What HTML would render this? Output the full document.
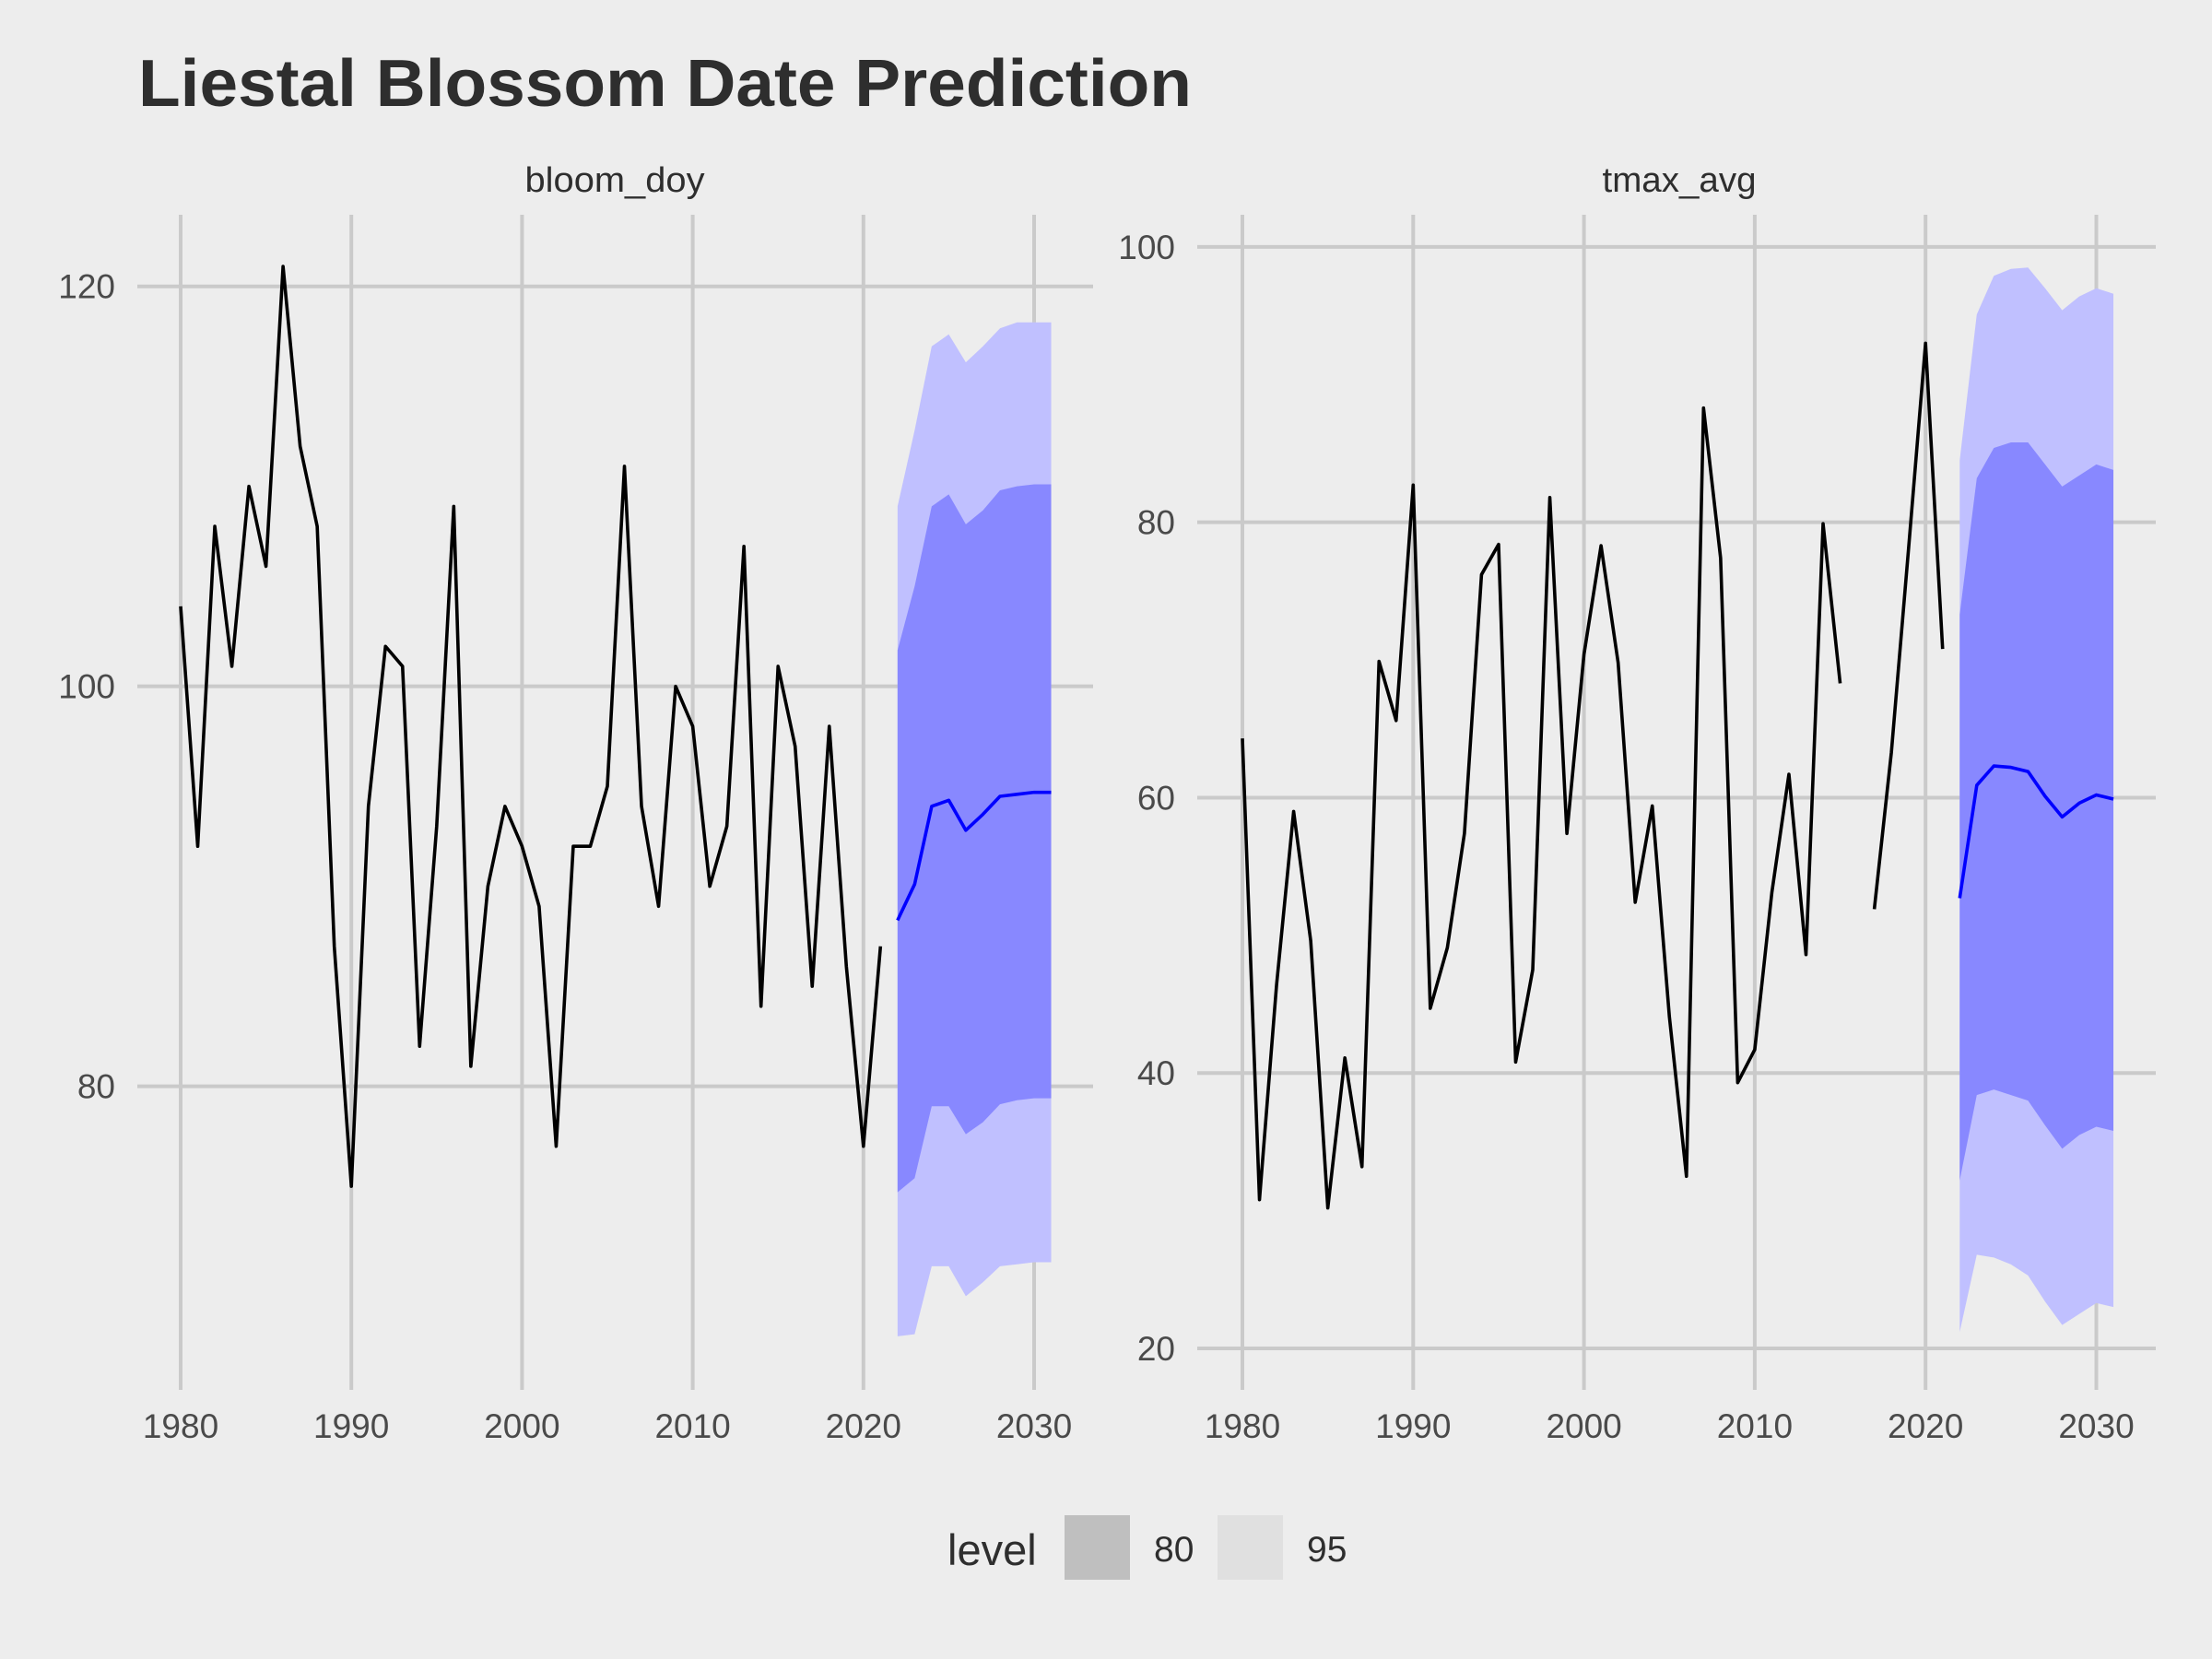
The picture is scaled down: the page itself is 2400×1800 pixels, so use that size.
<!DOCTYPE html>
<html><head><meta charset="utf-8"><style>
html,body{margin:0;padding:0;background:#ededed;}
svg{display:block;font-family:"Liberation Sans",sans-serif;}
</style></head><body>
<svg id="chart" width="2400" height="1800" viewBox="0 0 2400 1800" xmlns="http://www.w3.org/2000/svg">
<rect x="0" y="0" width="2400" height="1800" fill="#ededed"/>
<text x="150" y="115" font-size="72" font-weight="bold" fill="#2e2e2e" textLength="1143" lengthAdjust="spacingAndGlyphs">Liestal Blossom Date Prediction</text>
<g id="left"></g>
<g id="right"></g>
<g>
<text x="1028" y="1698" font-size="47" fill="#2e2e2e">level</text>
<rect x="1155" y="1644" width="71" height="70" fill="#bfbfbf"/>
<text x="1252" y="1694" font-size="39" fill="#2e2e2e">80</text>
<rect x="1321" y="1644" width="71" height="70" fill="#e0e0e0"/>
<text x="1418" y="1694" font-size="39" fill="#2e2e2e">95</text>
</g>
</svg>
<script>
const years = [];
for (let y = 1980; y <= 2021; y++) years.push(y);
const fcYears = [2022,2023,2024,2025,2026,2027,2028,2029,2030,2031];
const xTicks = [1980,1990,2000,2010,2020,2030];

const bloomHist = [104,92,108,101,110,106,121,112,108,87,75,94,102,101,82,93,109,81,90,94,92,89,77,92,92,95,111,94,89,100,98,90,93,107,84,101,97,85,98,86,77,87];
const bloomMean = [88.3,90.1,94,94.3,92.8,93.6,94.5,94.6,94.7,94.7];
const bloomHi80 = [101.8,105,109,109.6,108.1,108.8,109.8,110,110.1,110.1];
const bloomLo80 = [74.7,75.4,79,79,77.6,78.2,79.1,79.3,79.4,79.4];
const bloomHi95 = [109,112.8,117,117.6,116.2,117,117.9,118.2,118.2,118.2];
const bloomLo95 = [67.5,67.6,71,71,69.5,70.2,71,71.1,71.2,71.2];
const bloomYTicks = [80,100,120];

const tmaxHist = [64.3,30.8,46.4,59.0,49.6,30.2,41.1,33.2,69.9,65.6,82.7,44.7,49.1,57.4,76.2,78.4,40.8,47.5,81.8,57.4,70.4,78.3,69.8,52.4,59.4,44.1,32.5,88.3,77.4,39.3,41.7,53.1,61.7,48.6,79.9,68.3,null,51.9,63.3,78,93,70.8];
const tmaxMean = [52.7,60.9,62.3,62.2,61.9,60.1,58.6,59.6,60.2,59.9];
const tmaxHi80 = [73.3,83.2,85.4,85.8,85.8,84.2,82.6,83.4,84.2,83.8];
const tmaxLo80 = [32.2,38.4,38.8,38.4,38,36.2,34.5,35.5,36.1,35.8];
const tmaxHi95 = [84.5,95.1,97.9,98.4,98.5,97,95.4,96.4,97,96.6];
const tmaxLo95 = [21.2,26.8,26.6,26.1,25.3,23.4,21.7,22.5,23.3,23];
const tmaxYTicks = [20,40,60,80,100];

const NS = "http://www.w3.org/2000/svg";
function mk(parent, tag, attrs) {
  const e = document.createElementNS(NS, tag);
  for (const k in attrs) e.setAttribute(k, attrs[k]);
  parent.appendChild(e);
  return e;
}

function drawPanel(g, cfg) {
  const xS = v => cfg.x0 + (v - 1980) * (cfg.x1 - cfg.x0) / 50;
  const yS = v => cfg.yA + (v - cfg.vA) * (cfg.yB - cfg.yA) / (cfg.vB - cfg.vA);
  const strip = mk(g, 'text', {x: cfg.stripX, y: 208, 'font-size': 38, fill: '#2e2e2e', 'text-anchor': 'middle', textLength: cfg.stripW, lengthAdjust: 'spacingAndGlyphs'});
  
  
  strip.textContent = cfg.title;
  cfg.yTicks.forEach(t => {
    const l = mk(g, 'line', {x1: cfg.gx0, x2: cfg.gx1, y1: yS(t), y2: yS(t), stroke: '#cacaca', 'stroke-width': 4});
    
    
    const tx = mk(g, 'text', {x: cfg.gx0 - 24, y: yS(t) + 13, 'font-size': 37, fill: '#4a4a4a', 'text-anchor': 'end'});
    
    
    tx.textContent = t;
  });
  xTicks.forEach(t => {
    const l = mk(g, 'line', {x1: xS(t), x2: xS(t), y1: 233, y2: 1508, stroke: '#cacaca', 'stroke-width': 4});
    
    
    const tx = mk(g, 'text', {x: xS(t), y: 1560, 'font-size': 37, fill: '#4a4a4a', 'text-anchor': 'middle'});
    
    
    tx.textContent = t;
  });
  function band(hi, lo, color, name) {
    let d = '';
    fcYears.forEach((y, i) => { d += (i ? 'L' : 'M') + xS(y) + ',' + yS(hi[i]); });
    for (let i = fcYears.length - 1; i >= 0; i--) d += 'L' + xS(fcYears[i]) + ',' + yS(lo[i]);
    const p = mk(g, 'path', {d: d + 'Z', fill: color});
    
    
  }
  band(cfg.hi95, cfg.lo95, '#c0c0ff', 'interval-95-band');
  band(cfg.hi80, cfg.lo80, '#8888ff', 'interval-80-band');
  let d = '', pen = false;
  years.forEach((y, i) => {
    const v = cfg.hist[i];
    if (v === null) { pen = false; return; }
    d += (pen ? 'L' : 'M') + xS(y) + ',' + yS(v);
    pen = true;
  });
  const hl = mk(g, 'path', {d: d, fill: 'none', stroke: '#000', 'stroke-width': 3.6, 'stroke-linejoin': 'round'});
  
  
  let md = '';
  fcYears.forEach((y, i) => { md += (i ? 'L' : 'M') + xS(y) + ',' + yS(cfg.mean[i]); });
  const ml = mk(g, 'path', {d: md, fill: 'none', stroke: '#0000ff', 'stroke-width': 3.6, 'stroke-linejoin': 'round'});
  
  
}

drawPanel(document.getElementById('left'), {
  title: 'bloom_doy', stripX: 667, stripW: 195, x0: 196, x1: 1122, gx0: 149, gx1: 1186,
  vA: 120, yA: 310.7, vB: 80, yB: 1178.6, yTicks: bloomYTicks,
  hist: bloomHist, mean: bloomMean, hi80: bloomHi80, lo80: bloomLo80, hi95: bloomHi95, lo95: bloomLo95
});
drawPanel(document.getElementById('right'), {
  title: 'tmax_avg', stripX: 1822, stripW: 167, x0: 1348, x1: 2274.5, gx0: 1299, gx1: 2339,
  vA: 100, yA: 267.9, vB: 20, yB: 1463, yTicks: tmaxYTicks,
  hist: tmaxHist, mean: tmaxMean, hi80: tmaxHi80, lo80: tmaxLo80, hi95: tmaxHi95, lo95: tmaxLo95
});
</script>
</body></html>
